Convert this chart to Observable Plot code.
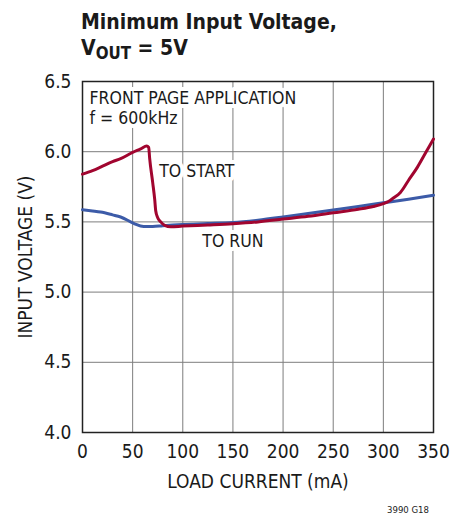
<!DOCTYPE html>
<html>
<head>
<meta charset="utf-8">
<script src="https://cdn.jsdelivr.net/npm/d3@7"></script>
<script src="https://cdn.jsdelivr.net/npm/@observablehq/plot@0.6"></script>
<style>
  html, body { margin: 0; padding: 0; background: white; }
  #wrap { width: 464px; height: 516px; position: relative; overflow: hidden; }
  .narrow { font-family: "DejaVu Sans Condensed", "Liberation Sans Narrow", "Arial Narrow", "Liberation Sans", sans-serif; }
  #title { height: 70px; box-sizing: border-box; padding-left: 81px; padding-top: 9px;
           font-weight: bold; font-size: 21px; line-height: 26px; color: #1a1a1a; }
  #title div { height: 26px; white-space: nowrap; }
  #title sub { font-size: 0.8em; vertical-align: baseline; position: relative; top: 4px; }
  #caption { height: 18px; box-sizing: border-box; padding-top: 6px; padding-right: 35px; text-align: right;
             font-size: 9.5px; line-height: 12px; color: #222; }
  svg { display: block; }
</style>
</head>
<body>
<div id="wrap">
  <div id="title" class="narrow"><div>Minimum Input Voltage,</div><div>V<sub>OUT</sub> = 5V</div></div>
  <div id="chart"></div>
  <div id="caption" class="narrow">3990 G18</div>
</div>
<script>
// ---- Data ----
const startCurrent = [0, 10, 18, 30, 38, 50, 58, 64, 66, 67, 70, 72, 73, 75, 78, 82, 88, 100, 125, 150, 175, 200, 225, 250, 275, 290, 300, 305, 310, 317, 325, 334, 342, 350];
const startVoltage = [5.84, 5.865, 5.89, 5.93, 5.95, 5.995, 6.02, 6.04, 6.03, 5.95, 5.78, 5.66, 5.58, 5.53, 5.50, 5.475, 5.465, 5.47, 5.478, 5.487, 5.50, 5.52, 5.54, 5.565, 5.59, 5.61, 5.63, 5.645, 5.67, 5.71, 5.795, 5.89, 5.99, 6.09];

const runCurrent = [0, 10, 18, 30, 38, 51, 61, 70, 80, 90, 100, 125, 150, 175, 200, 225, 250, 275, 300, 325, 350];
const runVoltage = [5.587, 5.578, 5.57, 5.55, 5.535, 5.49, 5.467, 5.467, 5.473, 5.478, 5.482, 5.488, 5.495, 5.512, 5.535, 5.56, 5.585, 5.61, 5.636, 5.662, 5.69];

const xTicks = [0, 50, 100, 150, 200, 250, 300, 350];
const yTicks = [4.0, 4.5, 5.0, 5.5, 6.0, 6.5];

const curveLabels = ["TO START", "TO RUN"];
const curveLabelX = [114, 150];
const curveLabelY = [5.86, 5.364];

const noteText = "FRONT PAGE APPLICATION\nf = 600kHz";

const xLabel = "LOAD CURRENT (mA)";
const yLabel = "INPUT VOLTAGE (V)";

// ---- Build tables ----
const startData = startCurrent.map((c, i) => ({current: c, voltage: startVoltage[i]}));
const runData = runCurrent.map((c, i) => ({current: c, voltage: runVoltage[i]}));
const labelData = curveLabels.map((t, i) => ({text: t, current: curveLabelX[i], voltage: curveLabelY[i]}));

const FONT = '"DejaVu Sans Condensed", "Liberation Sans Narrow", "Arial Narrow", "Liberation Sans", sans-serif';
const GRID = "#7d7d7d";
const RED = "#a1052f";
const BLUE = "#3c5ba8";

const chart = Plot.plot({
  width: 464,
  height: 428,
  marginLeft: 82,
  marginRight: 31,
  marginTop: 11,
  marginBottom: 66,
  style: {fontFamily: FONT, fontSize: "19px", color: "#1a1a1a", background: "white", overflow: "visible"},
  x: {domain: [0, 350]},
  y: {domain: [4, 6.5]},
  marks: [
    Plot.gridX(xTicks, {stroke: GRID, strokeOpacity: 1, strokeWidth: 1}),
    Plot.gridY(yTicks, {stroke: GRID, strokeOpacity: 1, strokeWidth: 1}),
    Plot.text([noteText], {
      frameAnchor: "top-left", dx: 7, dy: 8, lineAnchor: "top", textAnchor: "start",
      fontSize: 17.5, lineHeight: 1.14, fill: "#1a1a1a", stroke: "white", strokeWidth: 8
    }),
    Plot.text(labelData, {
      x: "current", y: "voltage", text: "text",
      fontSize: 17.5, fill: "#1a1a1a", stroke: "white", strokeWidth: 8
    }),
    Plot.frame({stroke: "#222", strokeWidth: 1.5}),
    Plot.axisX(xTicks, {
      tickSize: 0, tickPadding: 12, fontSize: 19,
      label: xLabel, labelAnchor: "center", labelOffset: 55, labelArrow: "none"
    }),
    Plot.axisY(yTicks, {
      tickSize: 0, tickPadding: 11, fontSize: 19, tickFormat: d3.format(".1f"),
      label: yLabel, labelAnchor: "center", labelOffset: 64, labelArrow: "none"
    }),
    Plot.line(runData, {x: "current", y: "voltage", stroke: BLUE, strokeWidth: 3, curve: "monotone-x"}),
    Plot.line(startData, {x: "current", y: "voltage", stroke: RED, strokeWidth: 3, curve: "monotone-x"})
  ]
});
document.getElementById("chart").appendChild(chart);
</script>
</body>
</html>
